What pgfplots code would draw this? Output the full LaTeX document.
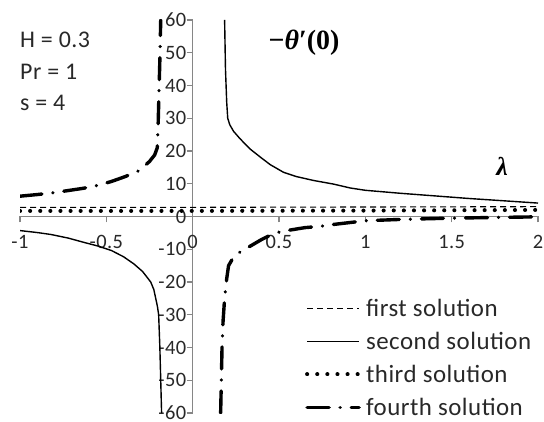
\documentclass[border=0pt]{standalone}
\usepackage{pgfplots}
\pgfplotsset{compat=1.18}
\usepackage{fontspec}
\setmainfont{Carlito}[LetterSpace=2]
\newfontfamily\tnr{Liberation Serif}
\definecolor{axisgray}{RGB}{134,134,134}
\definecolor{txt}{RGB}{40,40,40}

\begin{document}
\begin{tikzpicture}[x=1bp,y=1bp]
\begin{axis}[
  at={(0,0)}, anchor=south west,
  scale only axis, width=518bp, height=393bp,
  xmin=-1, xmax=2, ymin=-60, ymax=60,
  axis lines=middle,
  axis line style={draw=axisgray, line width=1.6bp, -},
  xtick={-1,-0.5,0,0.5,1,1.5,2},
  ytick={-60,-50,-40,-30,-20,-10,0,10,20,30,40,50,60},
  hide obscured x ticks=false, hide obscured y ticks=false,
  tick align=outside, major tick length=6bp,
  tick style={draw=axisgray, line width=1.2bp},
  /pgf/number format/assume math mode=true,
  ticklabel style={font=\fontsize{20.5}{22}\selectfont, text=txt},
  xticklabel style={yshift=-9bp},
  yticklabel style={xshift=3bp},
  unbounded coords=jump,
  clip=true,
  legend cell align=left,
  legend style={at={(0.55,0.292)}, anchor=north west, draw=none, fill=none,
    font=\fontsize{25}{28}\selectfont, text=txt, row sep=12bp,
    inner sep=0pt, nodes={inner xsep=5bp, inner ysep=1bp}},
  legend image code/.code={\draw[#1] (0bp,0bp) -- (52bp,0bp);},
]
% first solution
\addplot[black, line width=1.1bp, dash pattern=on 6bp off 4bp]
  coordinates {(-1,2.8) (0,2.8) (1,2.9) (2,3.0)};
\addlegendentry{first solution}
% second solution, two branches
\addplot[black, line width=1.4bp]
  coordinates {
  (-1,-4.3) (-0.9,-4.9) (-0.82,-5.5) (-0.72,-6.6) (-0.63,-7.9) (-0.55,-9)
  (-0.47,-10.4) (-0.4,-12.3) (-0.34,-14.5) (-0.29,-16.8) (-0.243,-20)
  (-0.225,-22.3) (-0.214,-25) (-0.204,-27.5) (-0.197,-30) (-0.19,-40)
  (-0.185,-50) (-0.18,-60)
  (0,nan)
  (0.185,60) (0.19,45) (0.197,35) (0.203,30) (0.215,28) (0.237,26)
  (0.27,24) (0.306,22) (0.335,20.5) (0.4,17.8) (0.45,15.8) (0.526,13.5)
  (0.6,12.2) (0.7,11) (0.815,9.9) (0.913,8.7) (1.0,8) (1.2,7.1) (1.4,6.3)
  (1.6,5.5) (1.8,4.8) (2,4.1)};
\addlegendentry{second solution}
% third solution
\addplot[black, line width=4bp, line cap=round, dash pattern=on 0.1bp off 10bp]
  coordinates {(-1,1.7) (0,1.7) (1,1.8) (2,2.0)};
\addlegendentry{third solution}
% fourth solution, two branches
\addplot[black, line width=3.4bp, line cap=round,
  dash pattern=on 22bp off 11bp on 0.1bp off 11bp]
  coordinates {
  (-1,6.2) (-0.9,6.7) (-0.8,7.3) (-0.635,8.6) (-0.55,9.5) (-0.47,10.7)
  (-0.39,12.2) (-0.31,14) (-0.25,16.8) (-0.22,18.8) (-0.205,21) (-0.2,28)
  (-0.195,38) (-0.19,48) (-0.185,60)
  (0,nan)
  (0.162,-60) (0.166,-50) (0.17,-40) (0.176,-32) (0.185,-25) (0.197,-19)
  (0.208,-15) (0.23,-13) (0.27,-11) (0.335,-9) (0.4,-7) (0.45,-5.7)
  (0.51,-4.6) (0.65,-3.4) (0.74,-3.0) (0.82,-2.4) (1.0,-1.3) (1.2,-0.9)
  (1.5,-0.5) (1.75,-0.3) (2,-0.1)};
\addlegendentry{fourth solution}
\end{axis}
% parameter block and quantity labels
\begin{scope}[font=\fontsize{24}{28}\selectfont, text=txt]
\node[anchor=west, inner sep=0pt] at (0,373) {H = 0.3};
\node[anchor=west, inner sep=0pt] at (0,341) {Pr = 1};
\node[anchor=west, inner sep=0pt] at (0,310) {s = 4};
\end{scope}
\node[inner sep=0pt, font=\tnr\bfseries\fontsize{28}{30}\selectfont] at (284,370) {−\textit{θ}′(0)};
\node[inner sep=0pt, font=\tnr\bfseries\itshape\fontsize{26}{28}\selectfont] at (482,247) {λ};
\pgfresetboundingbox
\path[use as bounding box] (-20,-8) rectangle (524,413);
\end{tikzpicture}
\end{document}
